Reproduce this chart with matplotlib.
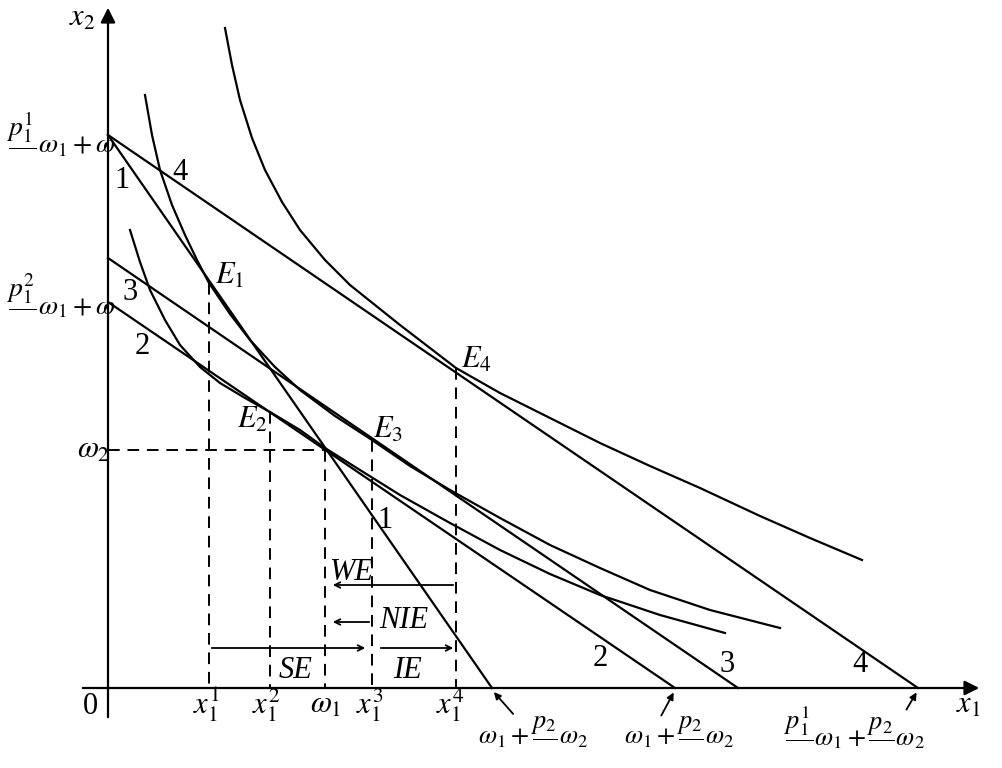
import matplotlib.pyplot as plt
import numpy as np

# all coordinates in picture pixels (y grows downward)
budget_lines = {
    "1": [(108, 135), (492, 688)],
    "4": [(108, 135), (918, 688)],
    "3": [(108, 258), (738, 688)],
    "2": [(108, 302), (675, 688)],
}

u4_x = [225, 232, 240, 252, 265, 282, 300, 325, 350, 400, 456, 500, 550, 600, 650, 700, 760, 810, 862]
u4_y = [28, 65, 100, 138, 170, 202, 230, 260, 285, 325, 368, 393, 418, 443, 466, 488, 516, 538, 560]
u1_x = [145, 152, 160, 172, 185, 197, 209, 230, 250, 275, 300, 335, 372, 410, 450, 500, 550, 600, 650, 710, 780]
u1_y = [95, 135, 170, 205, 235, 260, 283, 314, 340, 367, 390, 416, 440, 466, 490, 518, 545, 568, 590, 610, 628]
u2_x = [130, 140, 150, 165, 180, 200, 220, 245, 270, 300, 325, 360, 400, 450, 500, 550, 600, 660, 725]
u2_y = [230, 262, 290, 320, 345, 367, 383, 398, 412, 430, 448, 470, 495, 523, 550, 574, 595, 615, 633]

drops = {209: 283, 270: 412, 325: 450, 372: 440, 456: 368}

plt.rcParams["font.family"] = ["Liberation Serif", "DejaVu Serif"]
plt.rcParams["mathtext.fontset"] = "stix"
fig = plt.figure(figsize=(10.03, 7.68), dpi=100)
ax = fig.add_axes([0, 0, 1, 1])
ax.set_xlim(0, 1003)
ax.set_ylim(768, 0)
ax.axis("off")

k = dict(color="black", lw=1.6)
ax.annotate("", xy=(108, 5), xytext=(108, 720), arrowprops=dict(arrowstyle="-|>", color="black", lw=1.6, mutation_scale=22))
ax.annotate("", xy=(982, 688), xytext=(80, 688), arrowprops=dict(arrowstyle="-|>", color="black", lw=1.6, mutation_scale=22))

for pts in budget_lines.values():
    xs, ys = zip(*pts)
    ax.plot(xs, ys, **k)
for xs, ys in [(u4_x, u4_y), (u1_x, u1_y), (u2_x, u2_y)]:
    ax.plot(xs, ys, **k)

dk = dict(color="black", lw=1.4, ls=(0, (6, 4)))
for x, y in drops.items():
    ax.plot([x, x], [y, 688], **dk)
ax.plot([108, 325], [450, 450], **dk)

arr = dict(arrowstyle="->", color="black", lw=1.3)
ax.annotate("", xy=(330, 585), xytext=(456, 585), arrowprops=arr)
ax.annotate("", xy=(330, 622), xytext=(372, 622), arrowprops=arr)
ax.annotate("", xy=(368, 648), xytext=(209, 648), arrowprops=arr)
ax.annotate("", xy=(456, 648), xytext=(378, 648), arrowprops=arr)
for tx, ty, hx, hy in [(515, 716, 492, 690), (660, 718, 675, 690), (905, 712, 918, 690)]:
    ax.annotate("", xy=(hx, hy), xytext=(tx, ty), arrowprops=dict(arrowstyle="-|>", color="black", lw=1.3))

fs = 22
it = dict(fontsize=fs, style="italic", va="center", ha="center")
ax.text(82, 18, r"$x_2$", fontsize=fs, va="center", ha="center")
ax.text(968, 705, r"$x_1$", fontsize=fs, va="center", ha="center")
ax.text(90, 706, "0", fontsize=fs, va="center", ha="center")
ax.text(94, 450, r"$\omega_2$", fontsize=fs, va="center", ha="center")
ax.text(6, 135, r"$\dfrac{p_1^1}{\ }\omega_1+\omega$", fontsize=20, va="center", ha="left")
ax.text(6, 296, r"$\dfrac{p_1^2}{\ }\omega_1+\omega$", fontsize=20, va="center", ha="left")

for s, x, y in [("1", 122, 180), ("4", 180, 172), ("3", 130, 292), ("2", 142, 346),
                ("1", 385, 520), ("2", 600, 658), ("3", 727, 665), ("4", 860, 665)]:
    ax.text(x, y, s, fontsize=fs, va="center", ha="center")

for s, x, y in [(r"$E_1$", 230, 276), (r"$E_2$", 252, 420), (r"$E_3$", 388, 430), (r"$E_4$", 476, 360)]:
    ax.text(x, y, s, fontsize=fs, va="center", ha="center")

for s, x, y in [("WE", 352, 572), ("NIE", 404, 620), ("SE", 296, 670), ("IE", 408, 670)]:
    ax.text(x, y, s, **it)

for s, x in [(r"$x_1^1$", 206), (r"$x_1^2$", 266), (r"$\omega_1$", 326), (r"$x_1^3$", 370), (r"$x_1^4$", 450)]:
    ax.text(x, 705, s, fontsize=fs, va="center", ha="center")

ax.text(478, 732, r"$\omega_1+\dfrac{p_2}{\ }\omega_2$", fontsize=19, va="center", ha="left")
ax.text(624, 732, r"$\omega_1+\dfrac{p_2}{\ }\omega_2$", fontsize=19, va="center", ha="left")
ax.text(784, 728, r"$\dfrac{p_1^1}{\ }\omega_1+\dfrac{p_2}{\ }\omega_2$", fontsize=19, va="center", ha="left")

fig.savefig("out.png", dpi=100)
